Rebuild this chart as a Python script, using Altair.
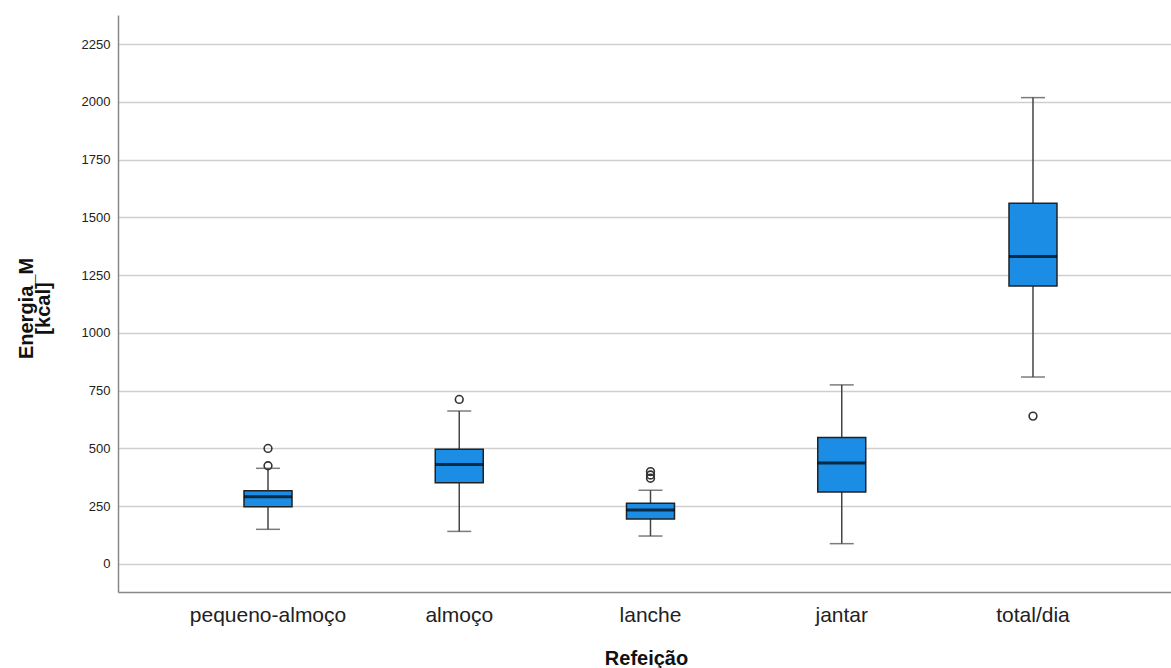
import altair as alt
import pandas as pd

categories = ["pequeno-almoço", "almoço", "lanche", "jantar", "total/dia"]
lower_whisker = [150, 141, 121, 88, 809]
q1 = [248, 352, 195, 312, 1203]
median = [291, 430, 234, 437, 1330]
q3 = [317, 496, 263, 547, 1561]
upper_whisker = [414, 662, 319, 775, 2018]

outlier_cat = ["pequeno-almoço", "pequeno-almoço", "almoço", "lanche", "lanche", "lanche", "total/dia"]
outlier_val = [500, 425, 712, 400, 385, 371, 640]

y_ticks = [0, 250, 500, 750, 1000, 1250, 1500, 1750, 2000, 2250]

stats = pd.DataFrame({
    "Refeição": categories,
    "lo": lower_whisker,
    "q1": q1,
    "med": median,
    "q3": q3,
    "hi": upper_whisker,
})
outl = pd.DataFrame({"Refeição": outlier_cat, "v": outlier_val})

FONT = "Liberation Sans"

xscale = alt.Scale(domain=categories, paddingInner=0, paddingOuter=0.253, align=0.562)
yscale = alt.Scale(domain=[-121.2, 2375.5], nice=False, zero=False)

xenc = alt.X(
    "Refeição:N",
    scale=xscale,
    sort=categories,
    axis=alt.Axis(
        title="Refeição",
        ticks=False,
        tickSize=0,
        labelAngle=0,
        labelFont=FONT,
        labelFontSize=21,
        labelColor="#222222",
        labelBaseline="alphabetic",
        labelPadding=29,
        domainColor="#888888",
        domainWidth=1.5,
        titleFont=FONT,
        titleFontSize=20,
        titleFontWeight="bold",
        titleColor="#111111",
        titleBaseline="alphabetic",
        titleAlign="center",
        titleX=528,
        titleY=72,
        grid=False,
    ),
)

yaxis = alt.Axis(
    title=["Energia_M", "[kcal]"],
    values=y_ticks,
    format="d",
    ticks=False,
    tickSize=0,
    labelFont=FONT,
    labelFontSize=13,
    labelColor="#222222",
    labelPadding=8,
    domainColor="#888888",
    domainWidth=1.5,
    grid=True,
    gridColor="#CFCFCF",
    gridWidth=1.6,
    titleFont=FONT,
    titleFontSize=20,
    titleFontWeight="bold",
    titleColor="#111111",
    titleAngle=270,
    titleBaseline="alphabetic",
    titleAlign="center",
    titleLineHeight=17,
    titleX=-86,
    titleY=293,
)

base = alt.Chart(stats)

whisk = base.mark_rule(color="#444444", strokeWidth=1.5).encode(
    x=xenc,
    y=alt.Y("lo:Q", scale=yscale, axis=yaxis),
    y2="hi:Q",
)
cap_lo = base.mark_tick(size=24, thickness=1.5, color="#444444").encode(
    x=alt.X("Refeição:N", scale=xscale, sort=categories),
    y=alt.Y("lo:Q", scale=yscale),
)
cap_hi = base.mark_tick(size=24, thickness=1.5, color="#444444").encode(
    x=alt.X("Refeição:N", scale=xscale, sort=categories),
    y=alt.Y("hi:Q", scale=yscale),
)
box = base.mark_bar(size=48, color="#1B8DE5", stroke="#222222", strokeWidth=1.5).encode(
    x=alt.X("Refeição:N", scale=xscale, sort=categories),
    y=alt.Y("q1:Q", scale=yscale),
    y2="q3:Q",
)
med = base.mark_tick(size=48, thickness=3, color="#000000").encode(
    x=alt.X("Refeição:N", scale=xscale, sort=categories),
    y=alt.Y("med:Q", scale=yscale),
)
pts = alt.Chart(outl).mark_point(
    shape="circle", filled=False, size=60, strokeWidth=1.6, color="#333333", opacity=1
).encode(
    x=alt.X("Refeição:N", scale=xscale, sort=categories),
    y=alt.Y("v:Q", scale=yscale),
)

chart = (
    alt.layer(whisk, cap_lo, cap_hi, box, med, pts)
    .properties(
        width=1053,
        height=577,
        autosize=alt.AutoSizeParams(type="none"),
        padding={"left": 118, "top": 15, "right": 0, "bottom": 76},
        background="white",
    )
    .configure_view(stroke=None)
)

chart.save("out.html", embed_options={"renderer": "svg", "actions": False})
